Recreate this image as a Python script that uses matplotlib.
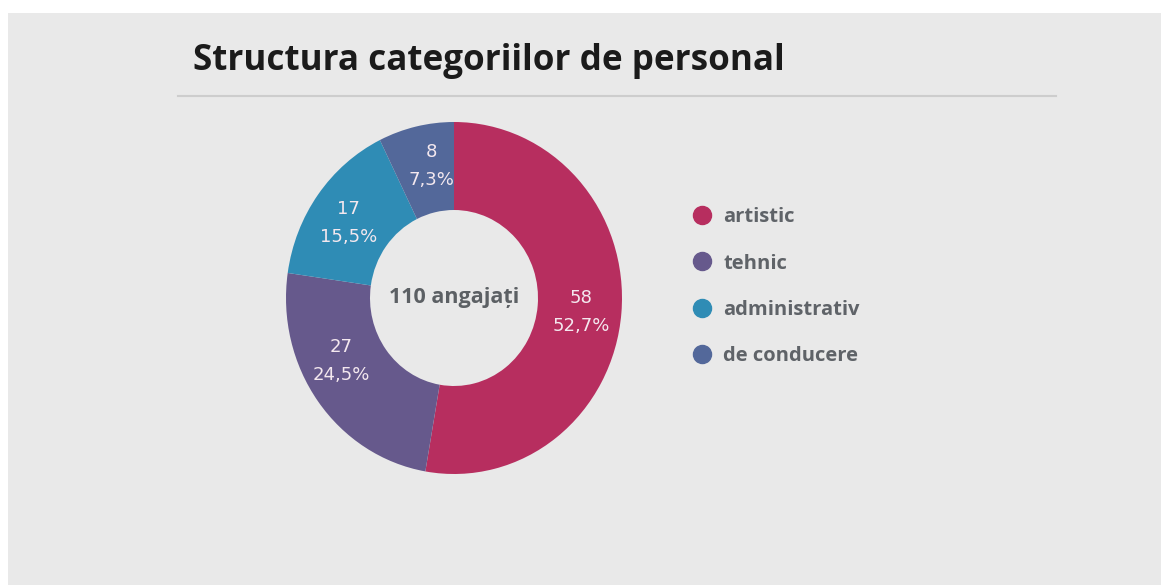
import numpy as np
import matplotlib
matplotlib.use("Agg")
import matplotlib.pyplot as plt
from matplotlib.lines import Line2D
from matplotlib.patches import Rectangle

# data
categories = ["artistic", "tehnic", "administrativ", "de conducere"]
counts = [58, 27, 17, 8]
percent_labels = ["52,7%", "24,5%", "15,5%", "7,3%"]
colors = ["#b72e5f", "#66598c", "#2f8cb5", "#53689a"]
total_label = "110 angajați"
title = "Structura categoriilor de personal"

# small angular nudges (degrees) for the in-ring labels, as in the original
label_nudge = [-1, -8, 2, -3]

W, H = 1161, 585
fig = plt.figure(figsize=(W / 100, H / 100), dpi=100)
fig.patch.set_facecolor("white")

# gray panel behind everything
fig.patches.append(Rectangle((8 / W, 0), 1 - 8 / W, (H - 13) / H,
                             transform=fig.transFigure, facecolor="#e9e9e9",
                             edgecolor="none", zorder=-5))

fig.text(193 / W, 1 - 61 / H, title, fontsize=25.2, fontweight="bold",
         family="Open Sans", color="#1b1b1b", va="center", ha="left")
fig.add_artist(Line2D([178 / W, 1056 / W], [1 - 95.5 / H, 1 - 95.5 / H],
                      transform=fig.transFigure, color="#cdcdcd", lw=1.5))

# donut
cx, cy, rx, ry = 454, 298, 168, 176
ax = fig.add_axes([(cx - rx) / W, (H - cy - ry) / H, 2 * rx / W, 2 * ry / H])
ax.set_zorder(3)
ax.set_facecolor("none")
wedges, _ = ax.pie(counts, colors=colors, startangle=90, counterclock=False,
                   radius=1, wedgeprops=dict(width=0.5, edgecolor="none"))
for w, c, p, nd in zip(wedges, counts, percent_labels, label_nudge):
    ang = np.deg2rad((w.theta1 + w.theta2) / 2 + nd)
    ax.text(0.76 * np.cos(ang), 0.76 * np.sin(ang), f"{c}\n{p}",
            ha="center", va="center", color="#f4e8ef", fontsize=13,
            family="DejaVu Sans", linespacing=1.7)
ax.set_xlim(-1, 1)
ax.set_ylim(-1, 1)
ax.set_aspect("auto")
ax.axis("off")
ax.text(0, 0, total_label, ha="center", va="center", fontsize=15.5,
        fontweight="bold", family="Open Sans", color="#5c6064")

# legend
handles = [Line2D([], [], marker="o", linestyle="none", markersize=13,
                  markerfacecolor=c, markeredgecolor=c) for c in colors]
leg = fig.legend(handles, categories, loc="upper left",
                 bbox_to_anchor=(672 / W, 1 - 189 / H), frameon=False,
                 handletextpad=0.45, labelspacing=1.31, handlelength=1.2,
                 prop=dict(family="Open Sans", weight="bold", size=14.5))
leg.set_zorder(4)
for t in leg.get_texts():
    t.set_color("#5f6368")

fig.savefig("out.png", dpi=100)
